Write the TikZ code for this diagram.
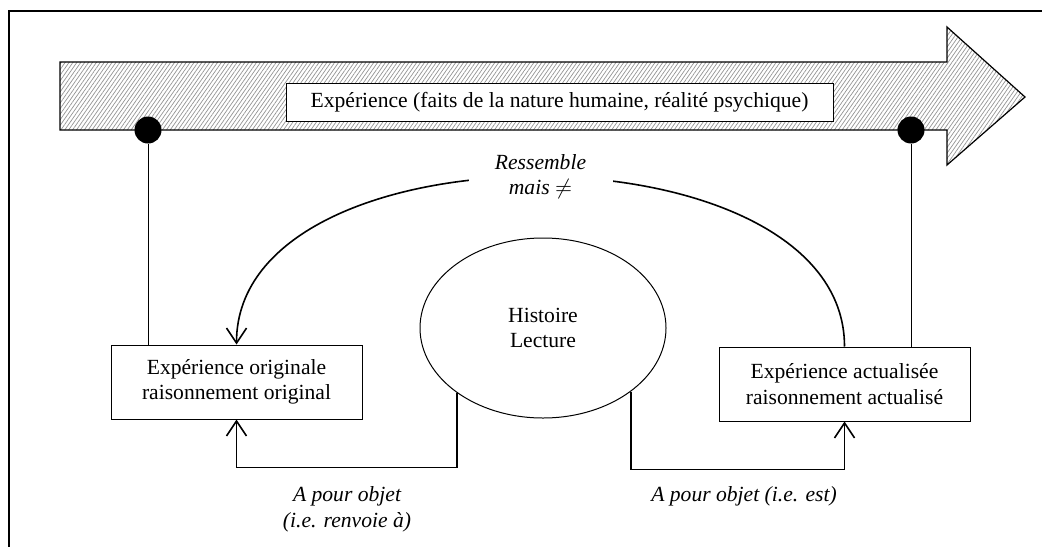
\documentclass[tikz,border=0pt]{standalone}
\usepackage{fontspec}
\setmainfont{Liberation Serif}
\usetikzlibrary{shapes.geometric, arrows.meta, patterns.meta}

\begin{document}
\begin{tikzpicture}
	[x=0.5pt, y=-0.5pt,
	 font=\fontsize{10.8}{12.6}\selectfont,
	 Boite/.style={draw, line width=0.5pt, minimum width=125.5pt, minimum height=37pt, align=center, inner sep=0pt},	%Boxes of both experiences
	 Point/.style={circle, fill=black, minimum size=13.5pt, inner sep=0pt},		%Black dots on the time arrow
	 Lien/.style={line width=0.8pt, -{Straight Barb[length=7.5pt, width=10pt]}},	%Arrows between the nodes
	 Legende/.style={font=\fontsize{10.8}{12.8}\selectfont\itshape, align=center}	%Italic labels of the arrows
	]
	
	\def\Xdeb{60};		%Left end of the arrow shaft
	\def\Xtete{947};	%Start of the arrow head
	\def\Xpointe{1025};	%Tip of the arrow
	
	\useasboundingbox (0,0) rectangle (1042,546);
	\draw[line width=1pt] (9,560) -- (9,11) -- (1060,11);	%Frame, only top and left visible
	
	\draw[line width=0.6pt, pattern={Lines[angle=55, distance=1.6pt, line width=0.35pt]}, pattern color=gray!85]
		(\Xdeb,62) -- (\Xtete,62) -- (\Xtete,27) -- (\Xpointe,97) -- (\Xtete,165) -- (\Xtete,130) -- (\Xdeb,130) -- cycle;	%Hatched arrow of experience
	\node[draw, fill=white, line width=0.5pt, minimum width=273.5pt, minimum height=19pt, inner sep=0pt] (expe) at (559.5,102)
		{Expérience (faits de la nature humaine, réalité psychique)};
	
	\node[Point] (pg) at (148,130) {};
	\node[Point] (pd) at (911,130) {};
	
	\node[Boite] (orig) at (236.5,382) {Expérience originale\\raisonnement original};
	\node[Boite] (actu) at (844.5,384) {Expérience actualisée\\raisonnement actualisé};
	\node[ellipse, draw, line width=0.5pt, minimum width=123pt, minimum height=90pt, inner sep=0pt, align=center] (hist) at (543,328)
		{Histoire\\Lecture};
	
	\draw[line width=0.5pt] (pg) -- (pg |- orig.north);	%Left dot down to original box
	\draw[line width=0.5pt] (pd) -- (pd |- actu.north);	%Right dot down to actualised box
	
	\draw[Lien] (actu.north) .. controls +(0,-225) and +(0,-225) .. (orig.north)
		node[midway, Legende, fill=white, minimum width=72pt] (ress) {Ressemble\\mais $\neq$};
	\draw[Lien] (hist.217) |- ([yshift=-24pt]orig.south) -- (orig.south);	%Histoire -> original
	\draw[Lien] (hist.324) |- ([yshift=-24pt]actu.south) -- (actu.south);	%Histoire -> actualised
	
	\node[Legende] (objg) at (347,509) {A pour objet\\(i.e. renvoie à)};
	\node[Legende] (objd) at (744,496) {A pour objet (i.e. est)};
	
\end{tikzpicture}
\end{document}
